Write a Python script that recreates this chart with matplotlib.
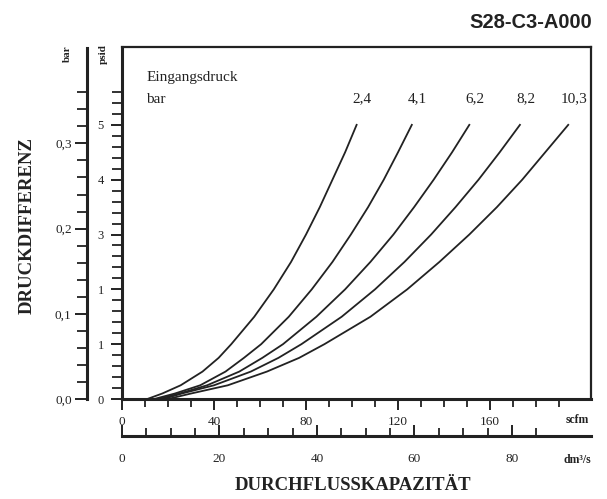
import numpy as np
import matplotlib
matplotlib.use("Agg")
import matplotlib.pyplot as plt

# psid (y) vs scfm (x) for each inlet pressure
psid = [0, 0.1, 0.25, 0.5, 0.75, 1, 1.5, 2, 2.5, 3, 3.5, 4, 4.5, 5]
curve_24 = [11, 17.5, 25.5, 35, 42, 47.5, 57.5, 66, 73.5, 80, 86, 91.5, 97, 102]
curve_41 = [14, 23, 34, 45, 53, 60.5, 72.5, 82.5, 91.5, 99.5, 107, 113.8, 120, 126]
curve_62 = [16, 25, 37, 51, 61, 70, 84.5, 97, 108, 118, 127, 135.5, 143.5, 151]
curve_82 = [18, 26, 40, 56, 68, 78, 95.5, 110, 122.8, 134.4, 145, 155, 164.2, 173]
curve_103 = [20, 30, 46, 63, 77, 88, 108, 124, 138, 151, 163, 174, 184, 194]
curves = [curve_24, curve_41, curve_62, curve_82, curve_103]
curve_labels = ["2,4", "4,1", "6,2", "8,2", "10,3"]

psid_ticks = [0, 1, 2, 3, 4, 5]
psid_ticklabels = ["0", "1", "1", "3", "4", "5"]
scfm_ticks = [0, 40, 80, 120, 160]
dm3_ticks = [0, 20, 40, 60, 80]
bar_ticks = [0, 0.1, 0.2, 0.3]
bar_ticklabels = ["0,0", "0,1", "0,2", "0,3"]

SCFM_PER_DM3S = 2.1189
W, H = 607, 499
ink = "#222222"
serif = "Liberation Serif"


def frac(x0, y0, x1, y1):
    return [x0 / W, 1 - y1 / H, (x1 - x0) / W, max((y1 - y0) / H, 1e-4)]


fig = plt.figure(figsize=(W / 100, H / 100), dpi=100)

# main plot box
ax = fig.add_axes(frac(122, 47, 591, 399))
ax.set_xlim(0, 203.9)
ax.set_ylim(0, 6.42)
for s in ["top", "right"]:
    ax.spines[s].set_linewidth(1.6)
    ax.spines[s].set_color(ink)
for s in ["left", "bottom"]:
    ax.spines[s].set_linewidth(2.2)
    ax.spines[s].set_color(ink)

for q in curves:
    ax.plot(q, psid, color=ink, lw=1.3, solid_joinstyle="round")
for q, lab in zip(curves, curve_labels):
    ax.text(q[-1] + 2.5, 5.47, lab, ha="center", va="center",
            fontsize=11, family=serif, color=ink)
ax.text(10.5, 5.86, "Eingangsdruck", ha="left", va="center", fontsize=11, family=serif, color=ink)
ax.text(10.5, 5.47, "bar", ha="left", va="center", fontsize=11, family=serif, color=ink)

ax.set_yticks(psid_ticks)
ax.set_yticklabels(psid_ticklabels)
ax.set_yticks(np.arange(0, 5.61, 0.2), minor=True)
ax.set_xticks(scfm_ticks)
ax.set_xticks(np.arange(0, 191, 10), minor=True)
ax.tick_params(which="major", length=8, width=1.4, direction="out", color=ink,
               labelsize=9.5, pad=4, labelcolor=ink)
ax.tick_params(axis="y", which="major", labelsize=9, pad=5)
ax.tick_params(which="minor", length=7, width=1.3, direction="out", color=ink)
ax.tick_params(axis="x", which="minor", length=6)
for t in ax.get_xticklabels() + ax.get_yticklabels():
    t.set_family(serif)

# second flow axis (dm3/s)
ax2 = fig.add_axes(frac(122, 436, 591, 436))
ax2.set_xlim(0, 203.9 / SCFM_PER_DM3S)
for s in ["top", "left", "right"]:
    ax2.spines[s].set_visible(False)
ax2.spines["bottom"].set_linewidth(2.2)
ax2.spines["bottom"].set_color(ink)
ax2.set_yticks([])
ax2.set_xticks(dm3_ticks)
ax2.set_xticks(np.arange(0, 86, 5), minor=True)
ax2.tick_params(axis="x", which="major", length=8, width=1.4, direction="in", color=ink,
                labelsize=9.5, pad=12, labelcolor=ink)
ax2.tick_params(axis="x", which="minor", length=6, width=1.3, direction="in", color=ink)
for t in ax2.get_xticklabels():
    t.set_family(serif)

# bar axis on the far left
ax3 = fig.add_axes(frac(87, 48, 87.01, 399))
ax3.set_ylim(0, 351 / 852)
for s in ["top", "bottom", "right"]:
    ax3.spines[s].set_visible(False)
ax3.spines["left"].set_linewidth(2.2)
ax3.spines["left"].set_color(ink)
ax3.set_xticks([])
ax3.set_yticks(bar_ticks)
ax3.set_yticklabels(bar_ticklabels)
ax3.set_yticks(np.arange(0, 0.37, 0.02), minor=True)
ax3.tick_params(axis="y", which="major", length=9, width=1.4, direction="out", color=ink,
                labelsize=9.5, pad=2, labelcolor=ink)
ax3.tick_params(axis="y", which="minor", length=7, width=1.3, direction="out", color=ink)
for t in ax3.get_yticklabels():
    t.set_family(serif)

# texts
def ftext(x, y, s, **kw):
    fig.text(x / W, 1 - y / H, s, **kw)

ftext(592, 22, "S28-C3-A000", ha="right", va="center", fontsize=14.5,
      fontweight="bold", family="Liberation Sans", color=ink)
ftext(27, 226, "DRUCKDIFFERENZ", ha="center", va="center", rotation=90,
      fontsize=13.5, fontweight="bold", family=serif, color=ink)
ftext(353, 485, "DURCHFLUSSKAPAZITÄT", ha="center", va="center",
      fontsize=13.5, fontweight="bold", family=serif, color=ink)
ftext(577, 420, "scfm", ha="center", va="center", fontsize=8.5,
      fontweight="bold", family=serif, color=ink)
ftext(577, 460, "dm³/s", ha="center", va="center", fontsize=8.5,
      fontweight="bold", family=serif, color=ink)
ftext(67, 54, "bar", ha="center", va="center", rotation=90, fontsize=8,
      fontweight="bold", family=serif, color=ink)
ftext(103, 54, "psid", ha="center", va="center", rotation=90, fontsize=8,
      fontweight="bold", family=serif, color=ink)

fig.savefig("out.png", dpi=100)
